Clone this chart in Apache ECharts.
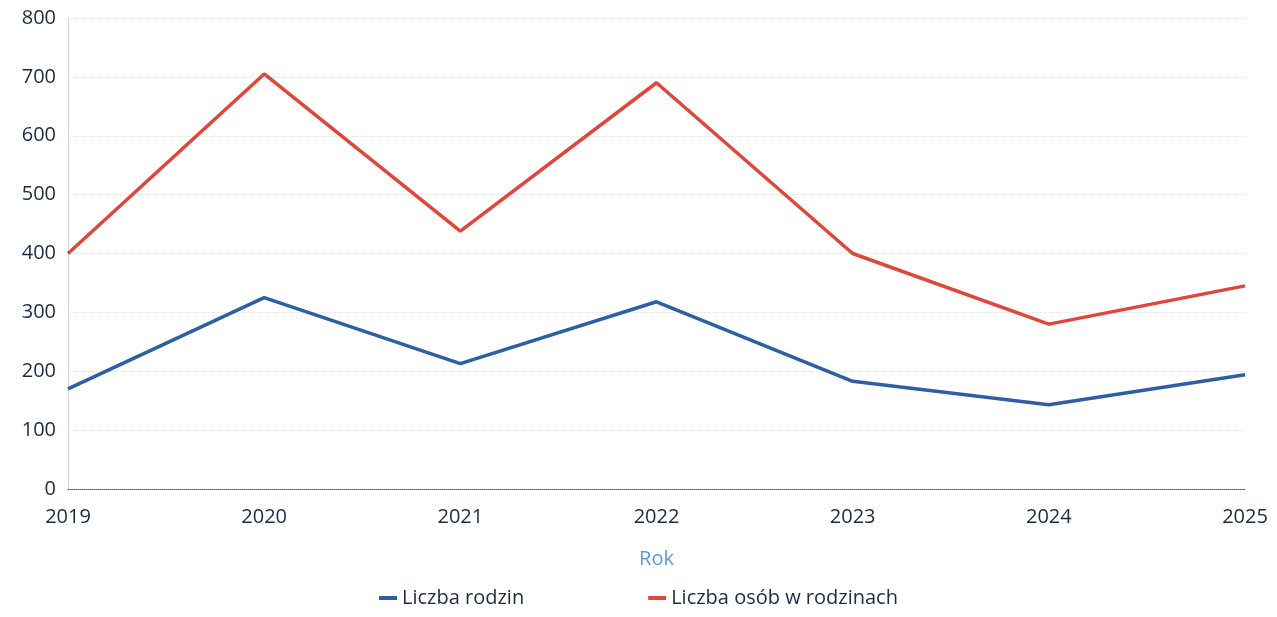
<!DOCTYPE html>
<html>
<head>
    <meta charset="UTF-8">
    <title>Liczba rodzin</title>
    <script src="https://cdn.jsdelivr.net/npm/echarts@6/dist/echarts.min.js"></script>
</head>
<body style="margin:0;background:#fff;">
    <div id="chartBox" style="width:1277px;height:617px;"></div>
    <script>
        // lata
        var years = ['2019', '2020', '2021', '2022', '2023', '2024', '2025'];
        // Liczba rodzin
        var families = [170, 325, 213, 318, 183, 143, 194];
        // Liczba osób w rodzinach
        var persons = [400, 705, 438, 690, 400, 280, 345];
        var yTicks = [0, 800, 100];

        var myChart = echarts.init(document.getElementById('chartBox'));
        var textColor = '#1b2b45';

        var option = {
            textStyle: { fontFamily: 'Open Sans' },
            grid: { left: 68, right: 32, top: 18, bottom: 128 },
            legend: {
                bottom: 4,
                left: 'center',
                icon: 'rect',
                itemWidth: 18,
                itemHeight: 4,
                itemGap: 124,
                textStyle: { color: textColor, fontSize: 20 },
                data: ['Liczba rodzin', 'Liczba osób w rodzinach']
            },
            xAxis: {
                type: 'category',
                data: years,
                boundaryGap: false,
                name: 'Rok',
                nameLocation: 'middle',
                nameGap: 60,
                nameTextStyle: { color: '#5b9bd8', fontSize: 20 },
                axisLine: { show: true, lineStyle: { color: '#555', type: 'dotted', width: 1 } },
                axisTick: { show: false },
                axisLabel: { color: textColor, fontSize: 20, margin: 18 }
            },
            yAxis: {
                type: 'value',
                min: yTicks[0],
                max: yTicks[1],
                interval: yTicks[2],
                axisLine: { show: true, lineStyle: { color: '#ccc', type: 'dotted' } },
                axisTick: { show: false },
                axisLabel: { color: textColor, fontSize: 20, margin: 12, align: 'right' },
                splitLine: { lineStyle: { color: '#e2e2e2', type: 'dotted' } }
            },
            series: [{
                name: 'Liczba rodzin',
                type: 'line',
                data: families,
                symbol: 'none',
                lineStyle: { width: 3.5, color: '#2d5ea6' },
                itemStyle: { color: '#2d5ea6' }
            }, {
                name: 'Liczba osób w rodzinach',
                type: 'line',
                data: persons,
                symbol: 'none',
                lineStyle: { width: 3.5, color: '#e0463c' },
                itemStyle: { color: '#e0463c' }
            }]
        };

        myChart.setOption(option);
    </script>
</body>
</html>
